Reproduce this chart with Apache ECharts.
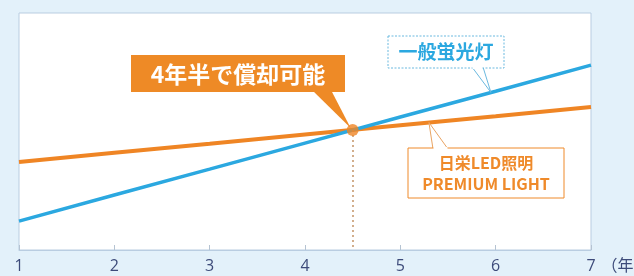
<!DOCTYPE html>
<html>
<head>
<meta charset="utf-8">
<script src="https://cdn.jsdelivr.net/npm/echarts@6/dist/echarts.min.js"></script>
<style>
  html, body { margin: 0; padding: 0; background: #e3f1fa; }
  #chart { width: 634px; height: 276px; }
</style>
</head>
<body>
<div id="chart"></div>
<script>
// 年数と累計コスト（縦軸は目盛なし、相対値）
const years = [1, 2, 3, 4, 5, 6, 7]
const fluorescentCost = [12.2, 23.2, 34.1, 45.1, 56.1, 67.0, 78.0]
const ledCost = [37.1, 41.0, 44.8, 48.7, 52.6, 56.4, 60.3]
const breakEven = [4.5, 50.6]
// 吹き出しの指す位置（データ座標）
const fluorescentAnchor = [5.95, 66.5]
const ledAnchor = [5.3, 53.8]

const BLUE = '#2ba8e0'
const ORANGE = '#ef8524'
const CJK = '"Noto Sans CJK JP", "Noto Sans", sans-serif'

const chart = echarts.init(document.getElementById('chart'))

let option = {
  animation: false,
  backgroundColor: '#e3f1fa',
  grid: {
    left: 19, right: 43, top: 13, bottom: 26,
    containLabel: false,
    outerBoundsMode: 'none',
    show: true,
    backgroundColor: '#fff',
    borderColor: '#b9cde1',
    borderWidth: 1
  },
  xAxis: {
    type: 'value',
    min: 1,
    max: 7,
    interval: 1,
    name: '（年）',
    nameLocation: 'end',
    nameGap: 8,
    nameTextStyle: { color: '#3d4b7a', fontSize: 16, fontFamily: CJK, verticalAlign: 'top', padding: [7, 0, 0, 0] },
    axisLine: { show: true, lineStyle: { color: '#b9cde1', width: 1 } },
    axisTick: { show: true, inside: true, length: 5, lineStyle: { color: '#b5c3d2' } },
    axisLabel: { color: '#3d4b7a', fontSize: 16, margin: 8, fontFamily: '"Open Sans", sans-serif' },
    splitLine: { show: false }
  },
  yAxis: {
    type: 'value',
    min: 0,
    max: 100,
    show: false,
    splitLine: { show: false }
  },
  series: [
    {
      name: '日栄LED照明',
      type: 'line',
      data: years.map((y, i) => [y, ledCost[i]]),
      symbol: 'none',
      lineStyle: { color: ORANGE, width: 4 },
      z: 2,
      markLine: {
        silent: true,
        symbol: 'none',
        label: { show: false },
        lineStyle: { color: '#c39467', type: [2, 3], width: 1.5 },
        data: [[{ coord: breakEven }, { coord: [breakEven[0], 0] }]]
      }
    },
    {
      name: '一般蛍光灯',
      type: 'line',
      data: years.map((y, i) => [y, fluorescentCost[i]]),
      symbol: 'none',
      lineStyle: { color: BLUE, width: 3.5 },
      z: 3
    },
    {
      type: 'scatter',
      data: [breakEven],
      symbol: 'circle',
      symbolSize: 12,
      itemStyle: { color: ORANGE },
      z: 5
    }
  ]
}

chart.setOption(option)

// 吹き出し
const px = v => chart.convertToPixel({ gridIndex: 0 }, v)
const dot = px(breakEven)
const fTip = px(fluorescentAnchor)
const lTip = px(ledAnchor)

chart.setOption({
  graphic: [
    // 4年半で償却可能
    {
      type: 'polygon', z: 4,
      shape: { points: [[312, 90], [331, 90], [dot[0] - 2, dot[1] - 2]] },
      style: { fill: '#ee8a26' }
    },
    {
      type: 'rect', z: 4,
      shape: { x: 131, y: 55, width: 214, height: 37 },
      style: { fill: '#ee8a26' }
    },
    {
      type: 'text', z: 5, x: 238, y: 74,
      style: { text: '4年半で償却可能', fill: '#fff', font: 'bold 23px ' + CJK, align: 'center', verticalAlign: 'middle' }
    },
    // 一般蛍光灯
    {
      type: 'polygon', z: 6,
      shape: { points: [[472, 67], [fTip[0], fTip[1]], [483, 67]] },
      style: { fill: '#fff', stroke: '#6bb9df', lineWidth: 1 }
    },
    {
      type: 'rect', z: 6,
      shape: { x: 388, y: 36, width: 116, height: 32 },
      style: { fill: '#fff', stroke: '#6bb9df', lineWidth: 1, lineDash: [2, 1.5] }
    },
    {
      type: 'line', z: 7,
      shape: { x1: 472.5, y1: 68, x2: 482.5, y2: 68 },
      style: { stroke: '#fff', lineWidth: 2 }
    },
    {
      type: 'text', z: 8, x: 446, y: 52,
      style: { text: '一般蛍光灯', fill: BLUE, font: 'bold 19px ' + CJK, align: 'center', verticalAlign: 'middle' }
    },
    // 日栄LED照明
    {
      type: 'polygon', z: 6,
      shape: { points: [[433, 149], [lTip[0], lTip[1]], [448, 149]] },
      style: { fill: '#fff', stroke: '#e9a463', lineWidth: 1 }
    },
    {
      type: 'rect', z: 6,
      shape: { x: 408, y: 148, width: 156, height: 50 },
      style: { fill: '#fff', stroke: '#ef8a2a', lineWidth: 1 }
    },
    {
      type: 'line', z: 7,
      shape: { x1: 433.5, y1: 148, x2: 447.5, y2: 148 },
      style: { stroke: '#fff', lineWidth: 2 }
    },
    {
      type: 'text', z: 8, x: 486, y: 173,
      style: {
        text: '日栄LED照明\nPREMIUM LIGHT',
        fill: '#ef8a2a',
        font: 'bold 16px ' + CJK,
        lineHeight: 21,
        align: 'center',
        verticalAlign: 'middle'
      }
    }
  ]
})
</script>
</body>
</html>
